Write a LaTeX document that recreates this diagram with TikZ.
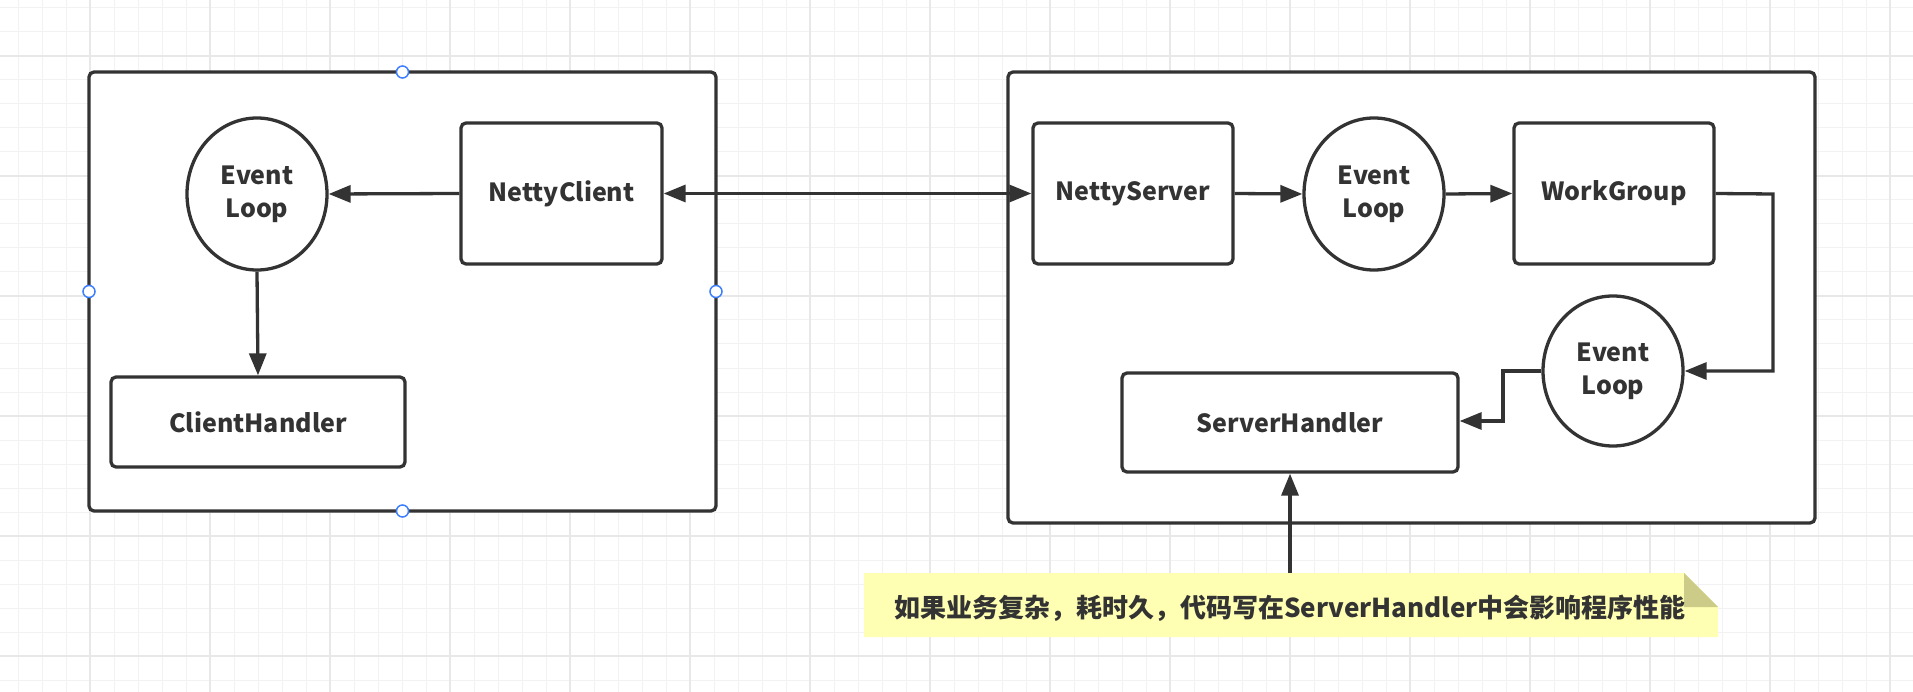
\documentclass[tikz,border=0pt]{standalone}
\usepackage{fontspec}
\setmainfont{Noto Sans CJK SC}
\usetikzlibrary{arrows.meta,shapes.geometric,calc}
\definecolor{ink}{HTML}{333333}
\definecolor{gridminor}{HTML}{F2F2F2}
\definecolor{gridmajor}{HTML}{E8E8E8}
\definecolor{notefill}{HTML}{FFFFB3}
\definecolor{notefold}{HTML}{CCCC88}
\definecolor{handle}{HTML}{3D7FFF}
\tikzset{
  every node/.style={text=ink,font=\bfseries\fontsize{25}{33}\selectfont},
  container/.style={draw=ink,line width=3.3pt,rounded corners=5pt,fill=white},
  box/.style={draw=ink,line width=3.3pt,rounded corners=5pt,fill=white,inner sep=0pt},
  loop/.style={draw=ink,line width=3.3pt,ellipse,fill=white,inner sep=0pt,minimum width=140pt,minimum height=152pt,align=center},
  conn/.style={draw=ink,line width=3.3pt,-{Triangle[length=22pt,width=17pt]}},
  dconn/.style={draw=ink,line width=3.3pt,{Triangle[length=22pt,width=17pt]}-{Triangle[length=22pt,width=17pt]}},
  hdl/.style={draw=handle,fill=white,line width=1.5pt,circle,inner sep=0pt,minimum size=12pt},
}
\begin{document}
\begin{tikzpicture}[x=1pt,y=-1pt]
\useasboundingbox (0,0) rectangle (1913,692);
\fill[white] (0,0) rectangle (1913,692);
% grid
\foreach \i in {0,...,80} {\draw[gridminor,line width=1pt] ({18+24*\i},0) -- ({18+24*\i},692);}
\foreach \j in {0,...,29} {\draw[gridminor,line width=1pt] (0,{8+24*\j}) -- (1913,{8+24*\j});}
\foreach \i in {0,...,16} {\draw[gridmajor,line width=2pt] ({-30+120*\i},0) -- ({-30+120*\i},692);}
\foreach \j in {0,...,5} {\draw[gridmajor,line width=2pt] (0,{56+120*\j}) -- (1913,{56+120*\j});}
% containers
\draw[container] (89,72) rectangle (716,511);
\draw[container] (1008,72) rectangle (1815,523);
% left nodes
\node[loop] (el1) at (257,194) {Event\\Loop};
\node[box,minimum width=201pt,minimum height=141pt] (nc) at (561.5,193.5) {NettyClient};
\node[box,minimum width=294pt,minimum height=90pt] (ch) at (258,422) {ClientHandler};
% right nodes
\node[box,minimum width=200pt,minimum height=141pt] (ns) at (1133,193.5) {NettyServer};
\node[loop] (el2) at (1374,194) {Event\\Loop};
\node[box,minimum width=200pt,minimum height=141pt] (wg) at (1614,193.5) {WorkGroup};
\node[loop,minimum height=150pt] (el3) at (1613,371) {Event\\Loop};
\node[box,minimum width=336pt,minimum height=99pt] (sh) at (1290,422.5) {ServerHandler};
% note
\fill[notefill] (864,573) -- (1684,573) -- (1718,607) -- (1718,637) -- (864,637) -- cycle;
\fill[notefold] (1684,573) -- (1718,607) -- (1684,607) -- cycle;
\node[font=\bfseries\fontsize{26}{30}\selectfont,anchor=center] (note) at (1290,608) {如果业务复杂，耗时久，代码写在ServerHandler中会影响程序性能};
\coordinate (notetop) at (1290,573);
% connectors
\draw[conn] (nc.west) -- (el1.east);
\draw[conn] (el1.south) -- (ch.north);
\draw[dconn] (nc.east) -- (ns.west);
\draw[conn] (ns.east) -- (el2.west);
\draw[conn] (el2.east) -- (wg.west);
\draw[conn] (wg.east) -- (1773,194) -- (1773,371) -- (el3.east);
\draw[conn] (el3.west) -- (1503,371) -- (1503,421) -- (sh.east |- 0,421);
\draw[conn] (notetop) -- (sh.south);
% selection handles
\node[hdl] (h1) at (402.5,72) {};
\node[hdl] (h2) at (89,291.5) {};
\node[hdl] (h3) at (716,291.5) {};
\node[hdl] (h4) at (402.5,511) {};
\end{tikzpicture}
\end{document}
